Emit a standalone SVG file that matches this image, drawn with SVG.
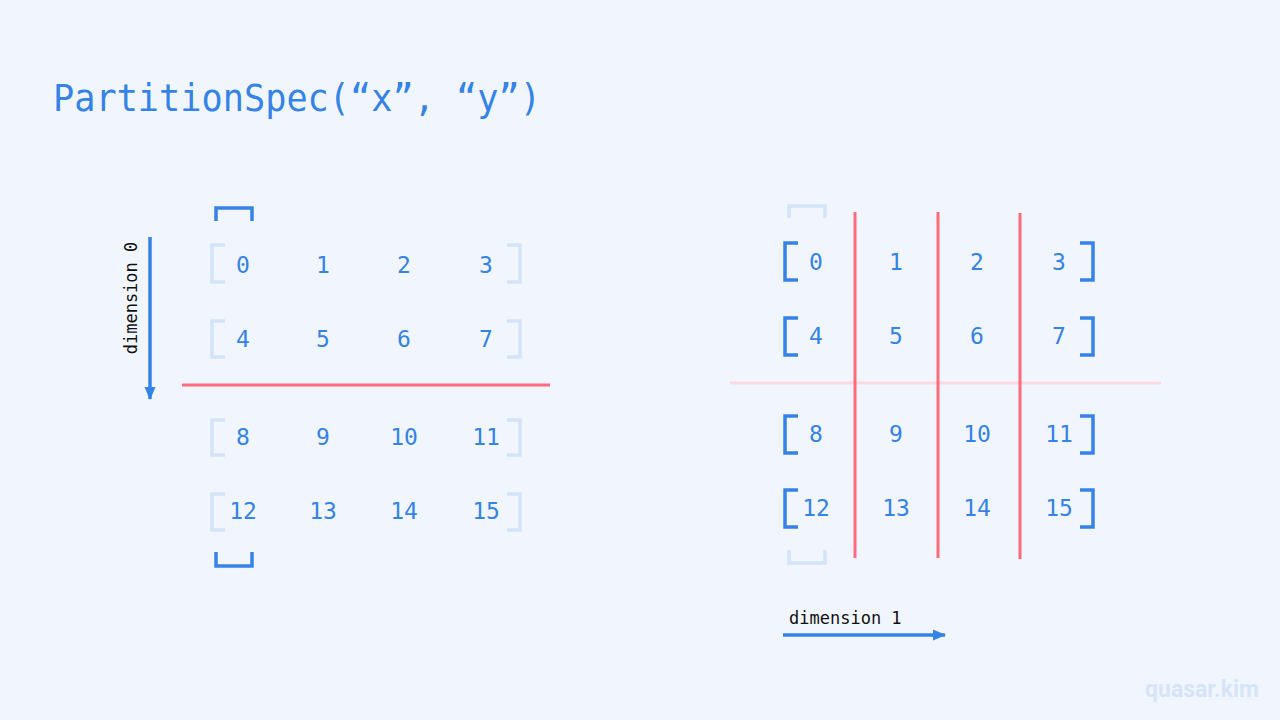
<svg xmlns="http://www.w3.org/2000/svg" width="1280" height="720" viewBox="0 0 1280 720">
<defs>
<style>
.num{font-family:"DejaVu Sans Mono","Liberation Mono",monospace;font-size:23px;fill:#3583E6;text-anchor:middle;dominant-baseline:central}
.lab{font-family:"DejaVu Sans Mono","Liberation Mono",monospace;font-size:17px;fill:#111}
.bd{fill:none;stroke:#3583E6;stroke-width:3.5}
.bl{fill:none;stroke:#D3E3F8;stroke-width:3.5}
.red{stroke:#FF6B7A;stroke-width:3}
.arr{stroke:#3583E6;stroke-width:3.5}
</style>
<marker id="ah" markerWidth="13" markerHeight="13" refX="12" refY="6.5" orient="auto" markerUnits="userSpaceOnUse" viewBox="0 0 13 13">
<path d="M0,1 L13,6.5 L0,12 z" fill="#3583E6"/>
</marker>
</defs>
<rect width="1280" height="720" fill="#F1F6FE"/>
<text x="53" y="111" font-family="DejaVu Sans Mono, Liberation Mono, monospace" font-size="37" fill="#3583E6" textLength="488" lengthAdjust="spacingAndGlyphs">PartitionSpec(“x”, “y”)</text>

<g id="left-matrix">
<path class="bd" d="M216,221 V208 H252 V221"/>
<path class="bd" d="M216,552 V566 H252 V552"/>
<path class="bl" d="M225,245 H212 V282 H225 M507,245 H520 V282 H507"/>
<path class="bl" d="M225,321 H212 V357 H225 M507,321 H520 V357 H507"/>
<path class="bl" d="M225,420 H212 V455 H225 M507,420 H520 V455 H507"/>
<path class="bl" d="M225,494 H212 V530 H225 M507,494 H520 V530 H507"/>
<text class="num" x="243" y="265">0</text><text class="num" x="323" y="265">1</text><text class="num" x="404" y="265">2</text><text class="num" x="486" y="265">3</text>
<text class="num" x="243" y="339">4</text><text class="num" x="323" y="339">5</text><text class="num" x="404" y="339">6</text><text class="num" x="486" y="339">7</text>
<text class="num" x="243" y="437">8</text><text class="num" x="323" y="437">9</text><text class="num" x="404" y="437">10</text><text class="num" x="486" y="437">11</text>
<text class="num" x="243" y="511">12</text><text class="num" x="323" y="511">13</text><text class="num" x="404" y="511">14</text><text class="num" x="486" y="511">15</text>
</g>

<g id="right-matrix">
<path class="bl" d="M789,218 V206 H825 V218"/>
<path class="bl" d="M789,550 V563 H825 V550"/>
<path class="bd" d="M798,243 H785 V280 H798 M1080,243 H1093 V280 H1080"/>
<path class="bd" d="M798,318 H785 V355 H798 M1080,318 H1093 V355 H1080"/>
<path class="bd" d="M798,416 H785 V453 H798 M1080,416 H1093 V453 H1080"/>
<path class="bd" d="M798,490 H785 V527 H798 M1080,490 H1093 V527 H1080"/>
<text class="num" x="816" y="262">0</text><text class="num" x="896" y="262">1</text><text class="num" x="977" y="262">2</text><text class="num" x="1059" y="262">3</text>
<text class="num" x="816" y="336">4</text><text class="num" x="896" y="336">5</text><text class="num" x="977" y="336">6</text><text class="num" x="1059" y="336">7</text>
<text class="num" x="816" y="434">8</text><text class="num" x="896" y="434">9</text><text class="num" x="977" y="434">10</text><text class="num" x="1059" y="434">11</text>
<text class="num" x="816" y="508">12</text><text class="num" x="896" y="508">13</text><text class="num" x="977" y="508">14</text><text class="num" x="1059" y="508">15</text>
</g>

<g id="connectors">
<line class="red" x1="182" y1="385" x2="550" y2="385"/>
<line x1="730" y1="383" x2="1161" y2="383" stroke="#FFD8E0" stroke-width="3"/>
<line class="red" x1="855" y1="212" x2="855" y2="558"/>
<line class="red" x1="938" y1="212" x2="938" y2="558"/>
<line class="red" x1="1020" y1="213" x2="1020" y2="559"/>
<line class="arr" x1="150" y1="237" x2="150" y2="399" marker-end="url(#ah)"/>
<line class="arr" x1="783" y1="635" x2="945" y2="635" marker-end="url(#ah)"/>
</g>

<g id="labels">
<text class="lab" transform="translate(137,298) rotate(-90)" text-anchor="middle">dimension 0</text>
<text class="lab" x="789" y="624">dimension 1</text>
<text x="1202" y="697" font-family="Roboto, Liberation Sans, sans-serif" font-weight="bold" font-size="23" fill="#D6E4F8" text-anchor="middle">quasar.kim</text>
</g>
</svg>
